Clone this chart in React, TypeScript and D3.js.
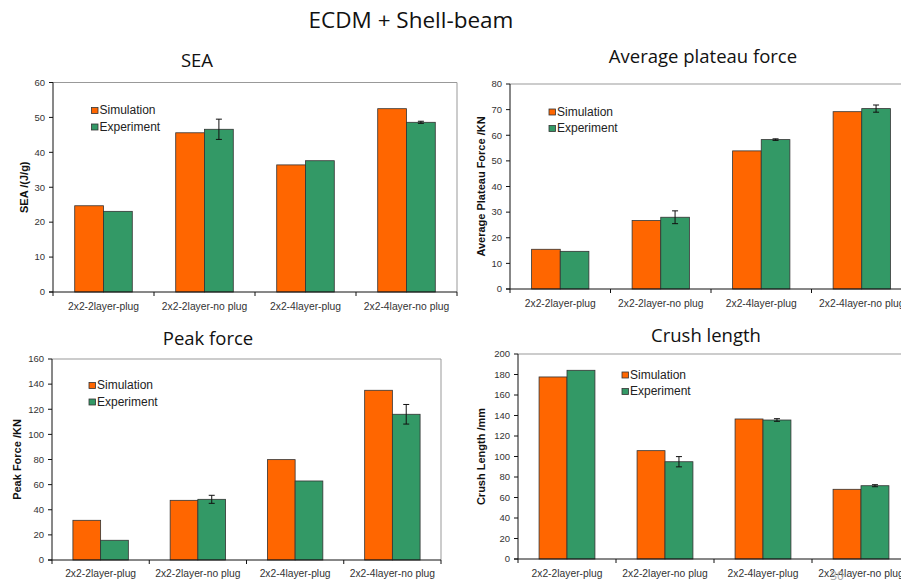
import React from "react";
import * as d3 from "d3";

// chart data
const categories = [
  "2x2-2layer-plug",
  "2x2-2layer-no plug",
  "2x2-4layer-plug",
  "2x2-4layer-no plug",
];
const seriesNames = ["Simulation", "Experiment"];

const seaSim = [24.7, 45.6, 36.4, 52.5];
const seaExp = [23.1, 46.6, 37.6, 48.6];
const seaErr = [0, 2.9, 0, 0.3];

const plateauSim = [15.5, 26.7, 53.9, 69.2];
const plateauExp = [14.7, 28.0, 58.3, 70.4];
const plateauErr = [0, 2.5, 0.3, 1.4];

const peakSim = [31.6, 47.5, 79.9, 135.1];
const peakExp = [15.7, 48.3, 62.9, 116];
const peakErr = [0, 3.2, 0, 7.8];

const crushSim = [177.6, 105.7, 136.6, 68];
const crushExp = [184.1, 94.9, 135.6, 71.5];
const crushErr = [0, 5, 1.3, 1];

const colors = ["#ff6600", "#339966"];
const font = "'Liberation Sans', Arial, sans-serif";
const titleFont = "'Open Sans', 'Noto Sans', sans-serif";

const panels = [
  {
    title: "SEA", yLabel: "SEA /(J/g)", sim: seaSim, exp: seaExp, err: seaErr,
    yMax: 60, yStep: 10,
    x0: 53, x1: 457, yTop: 82.5, yBottom: 292,
    titleX: 197, titleY: 67, legendX: 91.5, legendY: 107.5,
    yLabelX: 24, catY: 310,
  },
  {
    title: "Average plateau force", yLabel: "Average Plateau Force /KN",
    sim: plateauSim, exp: plateauExp, err: plateauErr,
    yMax: 80, yStep: 10,
    x0: 510, x1: 912, yTop: 84, yBottom: 289,
    titleX: 703, titleY: 63, legendX: 549, legendY: 109,
    yLabelX: 481, catY: 307,
  },
  {
    title: "Peak force", yLabel: "Peak Force /KN", sim: peakSim, exp: peakExp, err: peakErr,
    yMax: 160, yStep: 20,
    x0: 52, x1: 441, yTop: 359, yBottom: 560,
    titleX: 208, titleY: 345, legendX: 89, legendY: 382.5,
    yLabelX: 17, catY: 577,
  },
  {
    title: "Crush length", yLabel: "Crush Length /mm", sim: crushSim, exp: crushExp, err: crushErr,
    yMax: 200, yStep: 20,
    x0: 518, x1: 910, yTop: 354, yBottom: 559,
    titleX: 706, titleY: 342, legendX: 622, legendY: 372,
    yLabelX: 481, catY: 577,
  },
];

const Panel = ({ p }: { p: any }) => {
  const x = d3
    .scaleBand()
    .domain(categories)
    .range([p.x0, p.x1])
    .paddingInner(0.43)
    .paddingOuter(0.215);
  const inner = d3.scaleBand().domain(seriesNames).range([0, x.bandwidth()]);
  const y = d3.scaleLinear().domain([0, p.yMax]).range([p.yBottom, p.yTop]);
  const ticks = d3.range(0, p.yMax + 0.001, p.yStep);
  const step = (p.x1 - p.x0) / categories.length;
  const bounds = d3.range(categories.length + 1).map((i) => p.x0 + i * step);

  return (
    <g>
      <text x={p.titleX} y={p.titleY} textAnchor="middle" fontFamily={titleFont} fontSize={18.5} fill="#111">
        {p.title}
      </text>
      {/* frame */}
      <line x1={p.x0} x2={p.x1} y1={p.yTop} y2={p.yTop} stroke="#999" />
      <line x1={p.x1} x2={p.x1} y1={p.yTop} y2={p.yBottom} stroke="#999" />
      {/* bars */}
      {categories.map((c, i) => (
        <g key={c}>
          {[p.sim[i], p.exp[i]].map((v: number, j: number) => (
            <rect
              key={j}
              x={(x(c) as number) + (inner(seriesNames[j]) as number)}
              y={y(v)}
              width={inner.bandwidth()}
              height={y(0) - y(v)}
              fill={colors[j]}
              stroke="#333"
              strokeWidth={0.8}
            />
          ))}
          {p.err[i] > 0 && (
            <g stroke="#111" strokeWidth={1}>
              {(() => {
                const cx = (x(c) as number) + (inner("Experiment") as number) + inner.bandwidth() / 2;
                const hi = y(p.exp[i] + p.err[i]);
                const lo = y(p.exp[i] - p.err[i]);
                return (
                  <>
                    <line x1={cx} x2={cx} y1={hi} y2={lo} />
                    <line x1={cx - 3} x2={cx + 3} y1={hi} y2={hi} />
                    <line x1={cx - 3} x2={cx + 3} y1={lo} y2={lo} />
                  </>
                );
              })()}
            </g>
          )}
        </g>
      ))}
      {/* y axis */}
      <line x1={p.x0} x2={p.x0} y1={p.yTop} y2={p.yBottom} stroke="#111" />
      {ticks.map((t) => (
        <g key={t}>
          <line x1={p.x0 - 4} x2={p.x0} y1={y(t)} y2={y(t)} stroke="#111" />
          <text x={p.x0 - 8} y={y(t)} dy="0.35em" textAnchor="end" fontFamily={font} fontSize={9.5} fill="#333">
            {t}
          </text>
        </g>
      ))}
      <text
        transform={`translate(${p.yLabelX},${(p.yTop + p.yBottom) / 2}) rotate(-90)`}
        textAnchor="middle"
        dy="0.35em"
        fontFamily={font}
        fontSize={11}
        fontWeight="bold"
        fill="#111"
      >
        {p.yLabel}
      </text>
      {/* x axis */}
      <line x1={p.x0 - 4} x2={p.x1} y1={p.yBottom} y2={p.yBottom} stroke="#111" />
      {bounds.map((b, i) => (
        <line key={i} x1={b} x2={b} y1={p.yBottom} y2={p.yBottom + 4} stroke="#111" />
      ))}
      {categories.map((c) => (
        <text
          key={c}
          x={(x(c) as number) + x.bandwidth() / 2}
          y={p.catY}
          textAnchor="middle"
          fontFamily={font}
          fontSize={10.3}
          fill="#333"
        >
          {c}
        </text>
      ))}
      {/* legend */}
      {seriesNames.map((s, j) => (
        <g key={s} transform={`translate(${p.legendX},${p.legendY + j * 16.5})`}>
          <rect x={0} y={0} width={6.5} height={6} fill={colors[j]} stroke="#333" strokeWidth={0.8} />
          <text x={8} y={6.5} fontFamily={font} fontSize={12} fill="#222">
            {s}
          </text>
        </g>
      ))}
    </g>
  );
};

export default function App() {
  return (
    <svg
      width={901}
      height={581}
      style={{ position: "absolute", left: 0, top: 0, background: "#fff" }}
    >
      <rect width={901} height={581} fill="#fff" />
      <text x={411} y={28} textAnchor="middle" fontFamily={titleFont} fontSize={22.5} fill="#111">
        ECDM + Shell-beam
      </text>
      {panels.map((p) => (
        <Panel key={p.title} p={p} />
      ))}
      <text x={837} y={580} textAnchor="middle" fontFamily={titleFont} fontSize={12} fill="#aaa">
        30
      </text>
    </svg>
  );
}
